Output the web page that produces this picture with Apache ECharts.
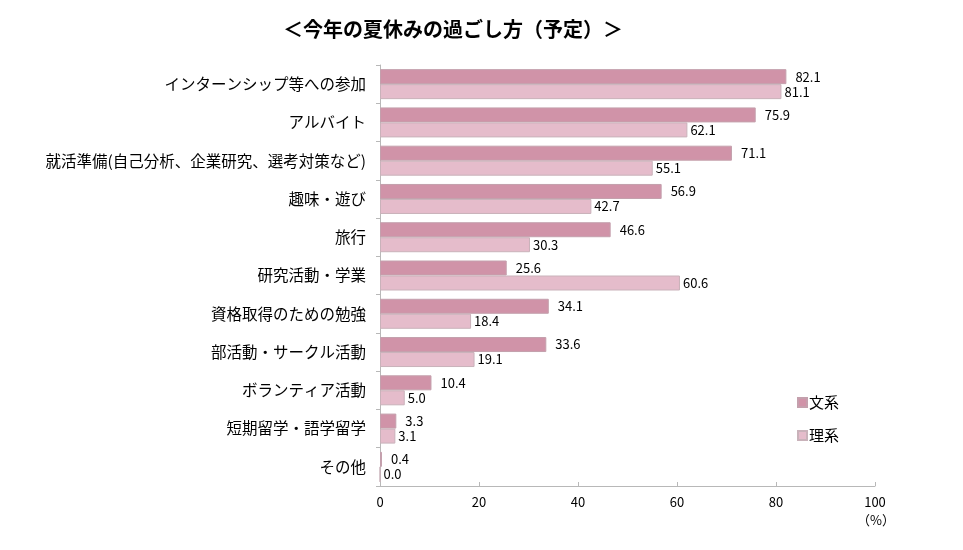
<!DOCTYPE html>
<html><head><meta charset="utf-8">
<script src="https://cdn.jsdelivr.net/npm/echarts@6/dist/echarts.min.js"></script>
<style>html,body{margin:0;padding:0;background:#fff}#c{width:963px;height:550px}</style>
</head><body><div id="c"></div>
<script>
const categories = ["インターンシップ等への参加","アルバイト","就活準備(自己分析、企業研究、選考対策など)","趣味・遊び","旅行","研究活動・学業","資格取得のための勉強","部活動・サークル活動","ボランティア活動","短期留学・語学留学","その他"];
const bunkei = [82.1, 75.9, 71.1, 56.9, 46.6, 25.6, 34.1, 33.6, 10.4, 3.3, 0.4];
const rikei = [81.1, 62.1, 55.1, 42.7, 30.3, 60.6, 18.4, 19.1, 5.0, 3.1, 0.0];
const xTicks = [0, 20, 40, 60, 80, 100];
const FONT = '"Noto Sans CJK JP", sans-serif';
const chart = echarts.init(document.getElementById('c'));
chart.setOption({
  animation: false,
  textStyle: { fontFamily: FONT },
  title: {
    text: '＜今年の夏休みの過ごし方（予定）＞',
    left: 448, top: 14, textAlign: 'center',
    textStyle: { fontSize: 20, fontWeight: 'bold', color: '#000', fontFamily: FONT }
  },
  legend: {
    orient: 'vertical', left: 792, top: 390, itemGap: 18,
    itemWidth: 9, itemHeight: 9, icon: 'rect',
    textStyle: { fontSize: 15, color: '#000', fontFamily: FONT, padding: [0,0,0,-3] },
    data: ['文系', '理系']
  },
  grid: { left: 380, right: 88, top: 65, bottom: 64 },
  xAxis: {
    type: 'value', min: xTicks[0], max: xTicks[xTicks.length - 1], interval: 20,
    splitLine: { show: false },
    axisLine: { show: true, lineStyle: { color: '#b8b8b8' } },
    axisTick: { show: true, inside: true, length: 4, lineStyle: { color: '#b8b8b8' } },
    axisLabel: { color: '#000', fontSize: 13, margin: 10, fontFamily: FONT }
  },
  yAxis: {
    type: 'category', data: categories, inverse: true,
    axisLine: { show: true, lineStyle: { color: '#b8b8b8' } },
    axisTick: { show: true, length: 4, lineStyle: { color: '#b8b8b8' } },
    axisLabel: { color: '#000', fontSize: 15.5, margin: 14, fontFamily: FONT }
  },
  graphic: [{ type: 'text', left: 857, top: 514, style: { text: '（%）', fontSize: 13, fill: '#000', fontFamily: FONT } }],
  series: [
    { name: '文系', type: 'bar', data: bunkei, barWidth: 15, barGap: '0%',
      itemStyle: { color: '#d093a8', borderColor: '#c4a0ad', borderWidth: 1 },
      label: { show: true, position: 'right', distance: 9, color: '#000', fontSize: 13, fontFamily: FONT, formatter: p => p.value.toFixed(1) } },
    { name: '理系', type: 'bar', data: rikei, barWidth: 15,
      itemStyle: { color: '#e5bccb', borderColor: '#c9b2ba', borderWidth: 1 },
      label: { show: true, position: 'right', distance: 3, color: '#000', fontSize: 13, fontFamily: FONT, formatter: p => p.value.toFixed(1) } }
  ]
});
</script></body></html>
